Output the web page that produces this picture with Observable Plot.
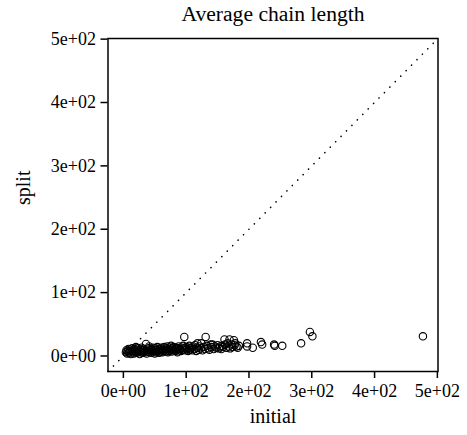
<!DOCTYPE html>
<html>
<head>
<meta charset="utf-8">
<script src="https://cdn.jsdelivr.net/npm/d3@7"></script>
<script src="https://cdn.jsdelivr.net/npm/@observablehq/plot@0.6"></script>
<style>
  html, body { margin: 0; padding: 0; background: #fff; }
  #chart svg { display: block; }
</style>
</head>
<body>
<div id="chart"></div>
<script>
const title = "Average chain length";
const xLabel = "initial";
const yLabel = "split";

const tickValues = [0, 100, 200, 300, 400, 500];
const tickLabels = ["0e+00", "1e+02", "2e+02", "3e+02", "4e+02", "5e+02"];

const initial = [4,5,6,7,8,9,10,11,12,13,14,15,16,17,18,19,20,21,22,23,24,25,26,27,28,29,30,31,32,33,34,36,37,38,39,40,41,42,43,44,45,46,47,48,49,50,51,52,53,54,55,56,57,58,59,60,61,62,63,64,65,66,67,68,69,70,71,72,73,74,75,76,77,78,79,80,82,83,84,85,86,87,88,89,90,92,93,94,95,97,98,99,100,101,103,104,105,106,108,110,111,113,114,116,117,118,120,121,123,124,126,128,130,131,133,135,137,139,140,142,144,146,148,150,152,154,156,157,159,161,162,164,166,168,169,170,172,174,176,177,178,180,182,184,197,197,206,219,221,240,241,253,283,297,301,477];
const split = [6,9,4,8,11,5,7,10,3,8,12,6,9,4,11,7,14,5,9,12,6,8,3,10,7,13,5,9,11,6,8,19,4,10,7,12,15,6,9,11,5,8,13,7,10,4,12,9,6,14,8,11,5,10,7,13,9,6,11,8,14,10,7,12,9,15,6,11,8,13,10,16,7,12,9,14,11,8,13,10,6,12,15,9,11,8,13,10,16,30,12,9,14,11,8,13,16,10,12,9,15,11,17,8,13,20,10,15,12,20,9,14,11,30,16,12,10,18,14,18,11,15,13,17,12,15,11,16,14,26,18,13,20,15,26,12,18,14,25,17,20,15,13,16,20,15,13,22,18,18,16,16,20,38,31,31];

const points = initial.map((x, i) => ({initial: x, split: split[i]}));
const domain = [-24.5, 501];
const diag = [{v: domain[0]}, {v: domain[1]}];

const plot = Plot.plot({
  width: 467,
  height: 435,
  marginLeft: 107.5,
  marginRight: 29.5,
  marginTop: 38,
  marginBottom: 64,
  style: {fontFamily: "'Liberation Serif', 'DejaVu Serif', serif", background: "#fff", color: "#000"},
  x: {domain, ticks: tickValues},
  y: {domain, ticks: tickValues},
  marks: [
    Plot.line(diag, {x: "v", y: "v", stroke: "#000", strokeWidth: 1.6, strokeDasharray: "0.1,7.6", strokeLinecap: "round"}),
    Plot.dot(points, {x: "initial", y: "split", r: 3.7, stroke: "#000", strokeWidth: 1.1, fill: "none"}),
    Plot.frame({stroke: "#000", strokeWidth: 1.5}),
    Plot.axisX({ticks: tickValues, tickFormat: (d, i) => tickLabels[i], tickSize: 7, tickPadding: 6, fontSize: 18, strokeWidth: 1.5, label: null}),
    Plot.axisY({ticks: tickValues, tickFormat: (d, i) => tickLabels[i], tickSize: 7, tickPadding: 5, fontSize: 18, strokeWidth: 1.5, label: null}),
    Plot.text([title], {frameAnchor: "top", lineAnchor: "middle", dy: -24, fontSize: 21.6, fill: "#000"}),
    Plot.text([xLabel], {frameAnchor: "bottom", lineAnchor: "middle", dy: 45, fontSize: 20, fill: "#000"}),
    Plot.text([yLabel], {frameAnchor: "left", dx: -84.5, rotate: -90, fontSize: 20, fill: "#000"})
  ]
});
document.getElementById("chart").appendChild(plot);
</script>
</body>
</html>
